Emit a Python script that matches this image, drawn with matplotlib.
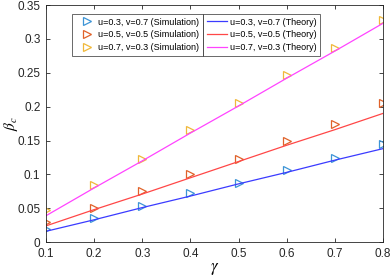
import matplotlib
matplotlib.use('Agg')
import matplotlib.pyplot as plt

plt.rcParams['font.family'] = ['Liberation Sans', 'DejaVu Sans']
plt.rcParams['mathtext.fontset'] = 'stix'

gamma = [0.1, 0.2, 0.3, 0.4, 0.5, 0.6, 0.7, 0.8]

# simulation points
sim_37 = [0.019, 0.036, 0.053, 0.072, 0.088, 0.107, 0.124, 0.145]
sim_55 = [0.029, 0.051, 0.075, 0.100, 0.123, 0.150, 0.175, 0.205]
sim_73 = [0.047, 0.085, 0.123, 0.165, 0.205, 0.247, 0.287, 0.328]

# theory curves
th_37 = [0.016, 0.033, 0.051, 0.068, 0.086, 0.103, 0.121, 0.138]
th_55 = [0.024, 0.048, 0.071, 0.095, 0.119, 0.143, 0.166, 0.190]
th_73 = [0.039, 0.080, 0.120, 0.161, 0.201, 0.242, 0.282, 0.323]

labels = ['u=0.3, v=0.7', 'u=0.5, v=0.5', 'u=0.7, v=0.3']
mk_colors = ['#3d94d6', '#e0622a', '#f0b83a']
ln_colors = ['#3b3bff', '#ff4747', '#ff44ff']

fig = plt.figure(figsize=(3.9, 2.78), dpi=100)
ax = fig.add_axes([0.118, 0.129, 0.864, 0.853])

sim_h = []
for s, c, lab in zip([sim_37, sim_55, sim_73], mk_colors, labels):
    h, = ax.plot(gamma, s, linestyle='none', marker='>', markersize=6,
                 markerfacecolor='none', markeredgecolor=c, markeredgewidth=0.9,
                 label=lab + ' (Simulation)')
    sim_h.append(h)
th_h = []
for t, c, lab in zip([th_37, th_55, th_73], ln_colors, labels):
    h, = ax.plot(gamma, t, color=c, linewidth=0.9, label=lab + ' (Theory)')
    th_h.append(h)

ax.set_xlim(0.1, 0.8)
ax.set_ylim(0, 0.35)
ax.set_xticks(gamma)
ax.set_xticklabels(['0.1', '0.2', '0.3', '0.4', '0.5', '0.6', '0.7', '0.8'])
ax.set_yticks([0, 0.05, 0.1, 0.15, 0.2, 0.25, 0.3, 0.35])
ax.set_yticklabels(['0', '0.05', '0.1', '0.15', '0.2', '0.25', '0.3', '0.35'])
ax.tick_params(direction='in', top=True, right=True, labelsize=8.5,
               colors='#262626', length=3, width=0.6, pad=4)
for sp in ax.spines.values():
    sp.set_color('#262626')
    sp.set_linewidth(0.6)

ax.set_xlabel(r'$\gamma$', fontsize=12, labelpad=1)
ax.set_ylabel(r'$\beta_c$', fontsize=11)
ax.yaxis.set_label_coords(-0.078, 0.5)

# two framed legends side by side, sharing the middle border
leg1 = ax.legend(handles=sim_h, loc='upper right', bbox_to_anchor=(0.466, 0.962),
                 fontsize=6.5, frameon=True, fancybox=False, edgecolor='#262626',
                 handlelength=2.4, handletextpad=0.1, borderpad=0.4,
                 labelspacing=0.42, borderaxespad=0)
leg1.get_frame().set_linewidth(0.6)
ax.add_artist(leg1)
leg2 = ax.legend(handles=th_h, loc='upper left', bbox_to_anchor=(0.466, 0.962),
                 fontsize=6.5, frameon=True, fancybox=False, edgecolor='#262626',
                 handlelength=2.3, handletextpad=0.3, borderpad=0.4,
                 labelspacing=0.42, borderaxespad=0)
leg2.get_frame().set_linewidth(0.6)

fig.savefig('out.png', dpi=100)
